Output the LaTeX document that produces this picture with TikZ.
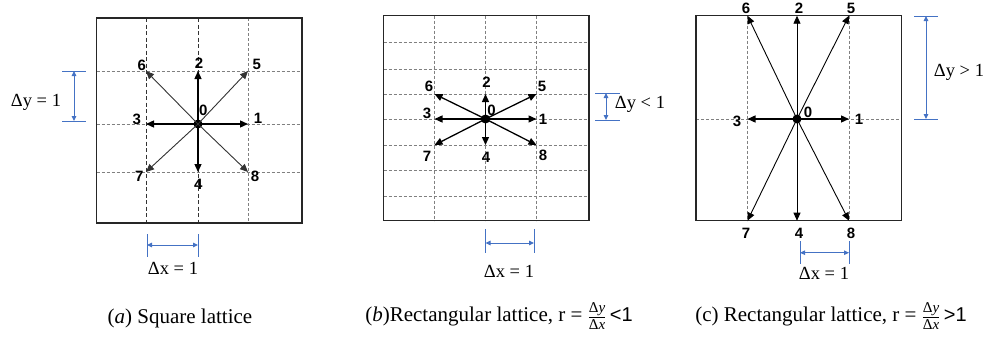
\documentclass[tikz,border=0pt]{standalone}
\usepackage{fontspec}
\setmainfont{Liberation Serif}
\setsansfont{Liberation Sans}
\usetikzlibrary{arrows.meta}
\definecolor{mblue}{HTML}{4472C4}
\newcommand\myfrac[2]{$\frac{\mbox{\fontsize{15}{15}\selectfont #1}}{\mbox{\fontsize{15}{15}\selectfont #2}}$}
\tikzset{
  boxframe/.style={draw=black!85, line width=1.1pt},
  latgrid/.style={draw=gray, line width=0.7pt, dash pattern=on 3pt off 2pt},
  darkgrid/.style={draw=black!80, line width=0.8pt, dash pattern=on 4pt off 2.5pt},
  vec/.style={-{Triangle[length=8pt,width=7pt]}, line width=1.3pt},
  dvec/.style={-{Triangle[length=8pt,width=7pt]}, line width=0.9pt, draw=black!80},
  num/.style={font=\sffamily\bfseries\fontsize{15}{15}\selectfont, inner sep=0pt},
  meas/.style={draw=mblue, line width=1pt, {Triangle[length=5pt,width=4.5pt]}-{Triangle[length=5pt,width=4.5pt]}},
  mtick/.style={draw=mblue, line width=1pt},
  lbl/.style={font=\fontsize{18.5}{18.5}\selectfont, inner sep=0pt},
  captxt/.style={font=\fontsize{21}{21}\selectfont, inner sep=0pt},
  dot/.style={circle, fill=black, inner sep=0pt, minimum size=9pt}
}
\begin{document}
\begin{tikzpicture}[x=1pt,y=-1pt]
\useasboundingbox (0,0) rectangle (989,343);
% ================= panel (a)
\draw[latgrid] (96.5,71) -- (302,71) (96.5,124) -- (302,124) (96.5,172) -- (302,172);
\draw[darkgrid] (146,18) -- (146,223) (198,18) -- (198,223);
\draw[latgrid] (248,18) -- (248,223);
\draw[boxframe] (96.5,18) rectangle (302,223);
\coordinate (a1) at (248,124); \coordinate (a2) at (198,71);
\coordinate (a3) at (146,124); \coordinate (a4) at (198,172);
\coordinate (a5) at (248,71);  \coordinate (a6) at (146,71);
\coordinate (a7) at (146,172); \coordinate (a8) at (248,172);
\node[dot] (a0) at (198,124) {};
\draw[vec] (a0.center) -- (a1); \draw[vec] (a0.center) -- (a2);
\draw[vec] (a0.center) -- (a3); \draw[vec] (a0.center) -- (a4);
\draw[dvec] (a0.center) -- (a5); \draw[dvec] (a0.center) -- (a6);
\draw[dvec] (a0.center) -- (a7); \draw[dvec] (a0.center) -- (a8);
\node[num] (la6) at (141.7,65) {6};
\node[num] (la2) at (199,63) {2};
\node[num] (la5) at (256.7,64) {5};
\node[num] (la3) at (136.7,119) {3};
\node[num] (la0) at (203.3,110) {0};
\node[num] (la1) at (258,118.3) {1};
\node[num] (la7) at (139.3,176.7) {7};
\node[num] (la4) at (198.3,184) {4};
\node[num] (la8) at (255,176.7) {8};
\coordinate (ay1) at (74,71); \coordinate (ay2) at (74,121);
\draw[mtick] (62,71) -- (86,71); \draw[mtick] (62,121) -- (86,121);
\draw[meas] (ay1) -- (ay2);
\node[lbl] (ady) at (36,102) {Δy = 1};
\coordinate (ax1) at (147,245); \coordinate (ax2) at (198,245);
\draw[mtick] (147,234) -- (147,257); \draw[mtick] (198,234) -- (198,257);
\draw[meas] (ax1) -- (ax2);
\node[lbl] (adx) at (173,268) {Δx = 1};
\node[captxt] (capa) at (180,318) {(\textit{a}) Square lattice};
% ================= panel (b)
\draw[latgrid] (383.5,42.7) -- (589,42.7) (383.5,69) -- (589,69) (383.5,94) -- (589,94)
  (383.5,119) -- (589,119) (383.5,145) -- (589,145) (383.5,170.5) -- (589,170.5) (383.5,196.5) -- (589,196.5);
\draw[latgrid] (434.5,15.7) -- (434.5,220.7) (485.5,15.7) -- (485.5,220.7) (536.5,15.7) -- (536.5,220.7);
\draw[boxframe] (383.5,15.7) rectangle (589,220.7);
\coordinate (b1) at (536.5,119); \coordinate (b2) at (485.5,94);
\coordinate (b3) at (434.5,119); \coordinate (b4) at (485.5,145);
\coordinate (b5) at (536.5,94);  \coordinate (b6) at (434.5,94);
\coordinate (b7) at (434.5,145); \coordinate (b8) at (536.5,145);
\node[dot] (b0) at (485.5,119) {};
\foreach \i in {1,...,8} {\draw[vec] (b0.center) -- (b\i);}
\node[num] (lb6) at (429,86) {6};
\node[num] (lb2) at (486.5,82) {2};
\node[num] (lb5) at (542,86) {5};
\node[num] (lb3) at (427,113) {3};
\node[num] (lb0) at (491.5,110) {0};
\node[num] (lb1) at (543,119) {1};
\node[num] (lb7) at (427,156) {7};
\node[num] (lb4) at (486,157) {4};
\node[num] (lb8) at (543,155) {8};
\coordinate (by1) at (606,93); \coordinate (by2) at (606,120);
\draw[mtick] (595,93) -- (620,93); \draw[mtick] (595,120) -- (620,120);
\draw[meas] (by1) -- (by2);
\node[lbl] (bdy) at (640,104) {Δy < 1};
\coordinate (bx1) at (485.5,243); \coordinate (bx2) at (534,243);
\draw[mtick] (485.5,229) -- (485.5,253); \draw[mtick] (534,229) -- (534,253);
\draw[meas] (bx1) -- (bx2);
\node[lbl] (bdx) at (509,271) {Δx = 1};
\node[captxt] (capb) at (499,316) {(\textit{b})Rectangular lattice, r = \myfrac{Δ\textit{y}}{Δ\textit{x}}\,{\sffamily\fontsize{20}{20}\selectfont <1}};
% ================= panel (c)
\draw[latgrid] (696,119) -- (901.7,119);
\draw[latgrid] (747.5,15.7) -- (747.5,220.7) (849,15.7) -- (849,220.7);
\draw[boxframe] (696,15.7) rectangle (901.7,220.7);
\coordinate (c1) at (849,119); \coordinate (c2) at (797,15.7);
\coordinate (c3) at (747.5,119); \coordinate (c4) at (797,220.7);
\coordinate (c5) at (849,15.7);  \coordinate (c6) at (747.5,15.7);
\coordinate (c7) at (747.5,220.7); \coordinate (c8) at (849,220.7);
\node[dot] (c0) at (797,119) {};
\draw[vec] (c0.center) -- (c1); \draw[vec] (c0.center) -- (c3);
\draw[dvec,draw=black] (c0.center) -- (c2); \draw[dvec,draw=black] (c0.center) -- (c4);
\draw[dvec,draw=black] (c0.center) -- (c5); \draw[dvec,draw=black] (c0.center) -- (c6);
\draw[dvec,draw=black] (c0.center) -- (c7); \draw[dvec,draw=black] (c0.center) -- (c8);
\node[num] (lc6) at (746,8) {6};
\node[num] (lc2) at (799,8) {2};
\node[num] (lc5) at (851,8) {5};
\node[num] (lc3) at (737,121) {3};
\node[num] (lc0) at (808,112) {0};
\node[num] (lc1) at (859,119) {1};
\node[num] (lc7) at (746,233) {7};
\node[num] (lc4) at (799,233) {4};
\node[num] (lc8) at (851,233) {8};
\coordinate (cy1) at (926,16); \coordinate (cy2) at (926,119);
\draw[mtick] (914,16) -- (938,16); \draw[mtick] (914,119) -- (938,119);
\draw[meas] (cy1) -- (cy2);
\node[lbl] (cdy) at (959,72) {Δy > 1};
\coordinate (cx1) at (800,252.7); \coordinate (cx2) at (849,252.7);
\draw[mtick] (800,241) -- (800,264); \draw[mtick] (849,241) -- (849,264);
\draw[meas] (cx1) -- (cx2);
\node[lbl] (cdx) at (824,273) {Δx = 1};
\node[captxt] (capc) at (831,316) {(c) Rectangular lattice, r = \myfrac{Δ\textit{y}}{Δ\textit{x}}\,{\sffamily\fontsize{20}{20}\selectfont >1}};
\end{tikzpicture}
\end{document}
